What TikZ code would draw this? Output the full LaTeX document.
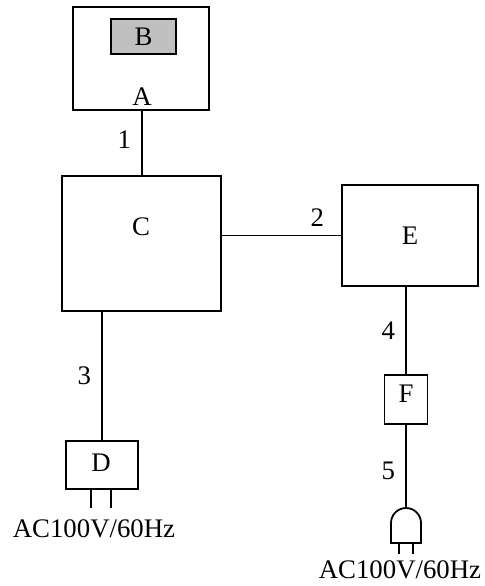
\documentclass[tikz,border=0pt]{standalone}
\usepackage{fontspec}
\setmainfont{Liberation Serif}
\begin{document}
\begin{tikzpicture}[x=0.5pt,y=-0.5pt,
  box/.style={draw,line width=0.9pt,inner sep=0pt},
  wire/.style={line width=0.9pt},
  txt/.style={font=\fontsize{13.4}{15}\selectfont,inner sep=0pt}]
\useasboundingbox (0,0) rectangle (485,586);
\node[box,minimum width=68pt,minimum height=51.5pt] (A) at (141,58.5) {};
\node[box,fill={rgb,255:red,192;green,192;blue,192},minimum width=32.5pt,minimum height=17.5pt] (B) at (143.5,36.5) {};
\node[txt] (Bt) at (143.5,37) {B};
\node[txt] (At) at (142,97) {A};
\node[box,minimum width=79.5pt,minimum height=67.5pt] (C) at (141.5,243.5) {};
\node[txt] (Ct) at (141,227) {C};
\node[box,minimum width=68pt,minimum height=50.5pt] (E) at (410,235.5) {};
\node[txt] (Et) at (410,236) {E};
\node[box,minimum width=21.5pt,minimum height=24.5pt] (F) at (406,399.5) {};
\node[txt] (Ft) at (406,394) {F};
\node[box,minimum width=36pt,minimum height=24pt] (D) at (102,465) {};
\node[txt] (Dt) at (101,463) {D};
\node[txt] (ac1) at (94,529) {AC100V/60Hz};
\node[txt] (ac2) at (400,570) {AC100V/60Hz};
% connectors
\draw[wire] (A.south -| At) -- (C.north -| At) node[txt,pos=0.45,left=5pt] {1};
\draw[wire] (E.west) -- (E.west -| C.east) node[txt,pos=0.2,above=4pt] {2};
\draw[wire] (C.south -| D.north) -- (D.north) node[txt,pos=0.5,left=5pt] {3};
\coordinate (P) at (406,509);
\draw[wire] (F.north |- E.south) -- (F.north) node[txt,pos=0.5,left=5pt] {4};
\draw[wire] (F.south) -- (P) node[txt,pos=0.55,left=5pt] {5};
% plug
\draw[wire] (391,543) -- (391,523) arc[start angle=180,end angle=360,radius=15] -- (421,543) -- cycle;
\draw[wire] (399,543) -- (399,554) (413,543) -- (413,554);
% D prongs
\draw[wire] (D.south -| 91,0) -- (91,508) (D.south -| 111,0) -- (111,508);
\end{tikzpicture}
\end{document}
